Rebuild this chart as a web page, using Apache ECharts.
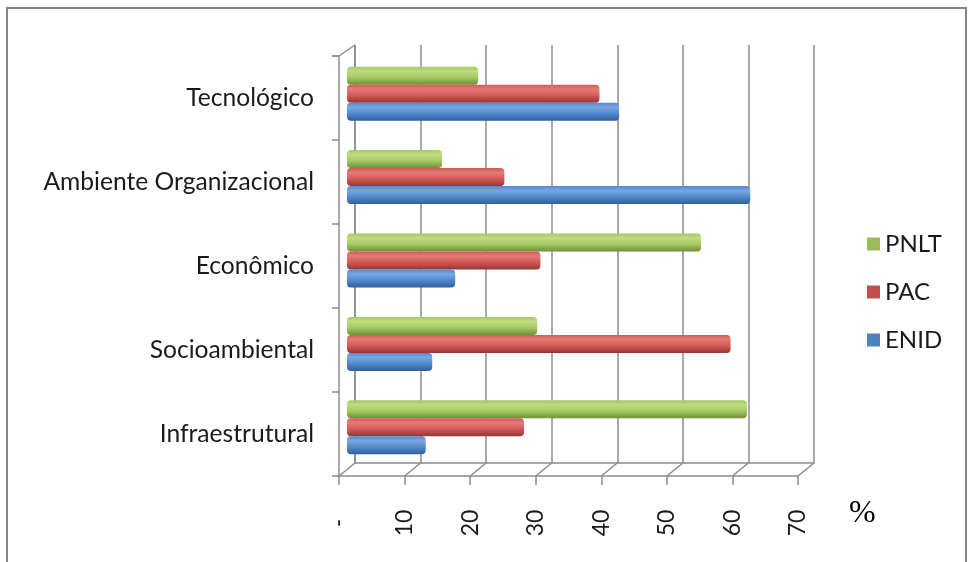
<!DOCTYPE html>
<html>
<head>
<meta charset="utf-8">
<style>
  html, body { margin: 0; padding: 0; background: #ffffff; }
  #chart { width: 969px; height: 562px; }
</style>
<script src="https://cdn.jsdelivr.net/npm/echarts@6/dist/echarts.min.js"></script>
</head>
<body>
<div id="chart"></div>
<script>
// Categories, bottom to top
const categories = ['Infraestrutural', 'Socioambiental', 'Econômico', 'Ambiente Organizacional', 'Tecnológico'];
// Percent values per plan
const enid = [12, 13, 16.5, 61.5, 41.5];
const pac  = [27, 58.5, 29.5, 24, 38.5];
const pnlt = [61, 29, 54, 14.5, 20];
// Value axis
const axisMin = 0;
const axisMax = 70;
const axisStep = 10;
const legendOrder = ['PNLT', 'PAC', 'ENID'];

const FONT = 'Lato';
const GRID_LINE = '#8c8c8c';

function cylinder(light, mid, dark) {
  return {
    type: 'linear', x: 0, y: 0, x2: 0, y2: 1,
    colorStops: [
      { offset: 0, color: mid },
      { offset: 0.25, color: light },
      { offset: 0.6, color: mid },
      { offset: 1, color: dark }
    ]
  };
}

const styles = {
  ENID: { legend: '#4f81bd', fill: cylinder('#79a6e0', '#5289cd', '#2f5f99') },
  PAC:  { legend: '#c0504d', fill: cylinder('#e57a77', '#d35a57', '#983532') },
  PNLT: { legend: '#9bbb59', fill: cylinder('#bfdc7f', '#a5c964', '#6f8f36') }
};

function barSeries(name, values) {
  return {
    name: name,
    type: 'bar',
    xAxisIndex: 2,
    yAxisIndex: 2,
    data: values,
    barWidth: 18,
    barGap: '0%',
    itemStyle: { color: styles[name].fill, borderRadius: 4 },
    silent: true
  };
}

const chart = echarts.init(document.getElementById('chart'), null, { renderer: 'canvas' });

const option = {
  animation: false,
  backgroundColor: '#ffffff',
  legend: {
    data: legendOrder.map(n => ({ name: n, itemStyle: { color: styles[n].legend } })),
    orient: 'vertical',
    left: 862,
    top: 227,
    itemWidth: 13,
    itemHeight: 13,
    itemGap: 24,
    icon: 'rect',
    textStyle: { fontFamily: FONT, fontSize: 24, color: '#1a1a1a' }
  },
  grid: [
    // front edge: category labels and value ticks
    { left: 339, right: 969 - 798, top: 56, bottom: 562 - 476 },
    // back wall with gridlines
    { left: 355, right: 969 - 814, top: 45, bottom: 562 - 463 },
    // bars, at mid depth
    { left: 347, right: 969 - 806, top: 52, bottom: 562 - 469 }
  ],
  xAxis: [
    {
      gridIndex: 0, type: 'value', min: axisMin, max: axisMax, interval: axisStep,
      axisLine: { show: true, lineStyle: { color: GRID_LINE, width: 1.5 } },
      axisTick: { show: true, length: 9, lineStyle: { color: GRID_LINE, width: 1.5 } },
      splitLine: { show: false },
      axisLabel: {
        rotate: 90, margin: 47, align: 'center', verticalAlign: 'middle',
        fontFamily: FONT, fontSize: 23, color: '#1a1a1a',
        formatter: v => (v === 0 ? '-' : String(v))
      }
    },
    {
      gridIndex: 1, type: 'value', min: axisMin, max: axisMax, interval: axisStep,
      axisLine: { show: true, lineStyle: { color: GRID_LINE, width: 1.5 } },
      axisTick: { show: false },
      axisLabel: { show: false },
      splitLine: { show: true, lineStyle: { color: GRID_LINE, width: 1.5 } }
    },
    {
      gridIndex: 2, type: 'value', min: axisMin, max: axisMax, interval: axisStep,
      show: false
    }
  ],
  yAxis: [
    {
      gridIndex: 0, type: 'category', data: categories,
      axisLine: { show: true, lineStyle: { color: GRID_LINE, width: 1.5 } },
      axisTick: { show: true, length: 7, lineStyle: { color: GRID_LINE, width: 1.5 } },
      axisLabel: { margin: 25, fontFamily: FONT, fontSize: 24.6, color: '#1a1a1a' }
    },
    {
      gridIndex: 1, type: 'category', data: categories,
      axisLine: { show: true, lineStyle: { color: GRID_LINE, width: 1.5 } },
      axisTick: { show: false },
      axisLabel: { show: false }
    },
    {
      gridIndex: 2, type: 'category', data: categories, show: false
    }
  ],
  // listed top to bottom within each category
  series: [
    barSeries('PNLT', pnlt),
    barSeries('PAC', pac),
    barSeries('ENID', enid)
  ]
};

chart.setOption(option);

// Floor and side-wall edges joining the front axes to the back wall
function drawWalls() {
  const front = chart.getModel().getComponent('grid', 0).coordinateSystem.getRect();
  const back = chart.getModel().getComponent('grid', 1).coordinateSystem.getRect();
  const lineStyle = { stroke: GRID_LINE, lineWidth: 1.5 };
  const elements = [];
  for (let v = axisMin; v <= axisMax; v += axisStep) {
    const fx = chart.convertToPixel({ xAxisIndex: 0 }, v);
    const bx = chart.convertToPixel({ xAxisIndex: 1 }, v);
    elements.push({
      type: 'line', silent: true,
      shape: { x1: fx, y1: front.y + front.height, x2: bx, y2: back.y + back.height },
      style: lineStyle
    });
  }
  // top edge of the left wall
  elements.push({
    type: 'line', silent: true,
    shape: { x1: front.x, y1: front.y, x2: back.x, y2: back.y },
    style: lineStyle
  });
  // short tick at the top of the left wall
  elements.push({
    type: 'line', silent: true,
    shape: { x1: front.x - 7, y1: front.y, x2: front.x, y2: front.y },
    style: lineStyle
  });
  // unit marker
  elements.push({
    type: 'text', silent: true, left: 849, top: 498,
    style: { text: '%', font: '32px "Liberation Serif", "DejaVu Serif", serif', fill: '#000' }
  });
  // outer frame
  elements.push({
    type: 'rect', silent: true,
    shape: { x: 7, y: 8, width: 959, height: 580 },
    style: { fill: null, stroke: '#868686', lineWidth: 2 }
  });
  chart.setOption({ graphic: { elements: elements } });
}
drawWalls();
</script>
</body>
</html>
